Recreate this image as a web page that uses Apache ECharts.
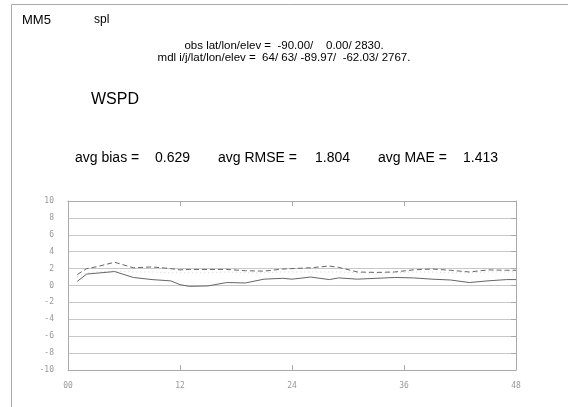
<!DOCTYPE html>
<html>
<head>
<meta charset="utf-8">
<title>MM5 spl WSPD</title>
<script src="https://cdn.jsdelivr.net/npm/echarts@6/dist/echarts.min.js"></script>
<style>
    html, body { margin: 0; padding: 0; background: #fff; }
    #chart { width: 568px; height: 407px; }
</style>
</head>
<body>
<div id="chart"></div>
<script>
// forecast hour of each point
var hours = [1, 2, 3, 5, 7, 9, 11, 12, 13, 15, 17, 19, 21, 23, 24, 26, 28, 29, 31, 33, 35, 37, 39, 41, 43, 45, 47, 48];
// solid line (bias)
var biasValues = [0.5, 1.35, 1.45, 1.65, 0.95, 0.7, 0.55, 0.1, -0.1, -0.05, 0.35, 0.3, 0.75, 0.85, 0.75, 1.0, 0.7, 0.9, 0.75, 0.85, 0.95, 0.9, 0.75, 0.65, 0.35, 0.55, 0.7, 0.7];
// dashed line (rmse)
var rmseValues = [1.3, 2.0, 2.2, 2.75, 2.1, 2.2, 2.0, 1.85, 1.9, 1.9, 1.9, 1.75, 1.7, 1.95, 2.0, 2.1, 2.3, 2.15, 1.6, 1.55, 1.6, 1.85, 1.95, 1.8, 1.6, 1.85, 1.8, 1.8];
// faint dotted line (mae)
var maeValues = [1.0, 1.5, 1.6, 1.7, 1.6, 1.6, 1.5, 1.5, 1.5, 1.5, 1.6, 1.5, 1.5, 1.6, 1.6, 1.6, 1.6, 1.6, 1.5, 1.5, 1.5, 1.6, 1.6, 1.5, 1.5, 1.6, 1.6, 1.6];
var yTicks = [-10, -8, -6, -4, -2, 0, 2, 4, 6, 8, 10];
var xTicks = [0, 12, 24, 36, 48];

function pairs(vals) {
    return hours.map(function (h, i) { return [h, vals[i]]; });
}

var chart = echarts.init(document.getElementById('chart'), null, { renderer: 'canvas' });
var font = '"Liberation Sans", Arial, sans-serif';
var tickFont = '"DejaVu Sans Mono", monospace';

function label(text, x, y, size) {
    return { type: 'text', left: x, top: y, style: { text: text, font: size + 'px ' + font, fill: '#000' } };
}

var option = {
    animation: false,
    backgroundColor: '#fff',
    textStyle: { fontFamily: font },
    graphic: [
        // frame of the page
        { type: 'line', shape: { x1: 11.5, y1: 4.5, x2: 568, y2: 4.5 }, style: { stroke: '#aaa', lineWidth: 1 } },
        { type: 'line', shape: { x1: 11.5, y1: 4.5, x2: 11.5, y2: 407 }, style: { stroke: '#aaa', lineWidth: 1 } },
        label('MM5', 22, 14, 13),
        label('spl', 94, 14, 12),
        { type: 'text', x: 284, y: 40, style: { text: 'obs lat/lon/elev =  -90.00/    0.00/ 2830.', font: '11.5px ' + font, fill: '#000', align: 'center' } },
        { type: 'text', x: 284, y: 52, style: { text: 'mdl i/j/lat/lon/elev =  64/ 63/ -89.97/  -62.03/ 2767.', font: '11.5px ' + font, fill: '#000', align: 'center' } },
        label('WSPD', 91, 92, 16),
        label('avg bias =', 75, 151, 14),
        label('0.629', 155, 151, 14),
        label('avg RMSE =', 218, 151, 14),
        label('1.804', 315, 151, 14),
        label('avg MAE =', 378, 151, 14),
        label('1.413', 463, 151, 14)
    ],
    grid: {
        left: 68,
        right: 52,
        top: 201,
        bottom: 37,
        show: false
    },
    xAxis: [
        {
            type: 'value',
            min: 0,
            max: 48,
            interval: 12,
            position: 'bottom',
            axisLine: { show: true, onZero: false, lineStyle: { color: '#aaa' } },
            axisTick: { show: true, inside: true, length: 5, lineStyle: { color: '#aaa' } },
            axisLabel: {
                margin: 12,
                color: '#999',
                fontSize: 8,
                fontFamily: tickFont,
                formatter: function (v) { return xTicks.indexOf(v) >= 0 ? (v < 10 ? '0' + v : '' + v) : ''; }
            },
            splitLine: { show: false }
        },
        {
            type: 'value',
            min: 0,
            max: 48,
            interval: 12,
            position: 'top',
            axisLine: { show: true, onZero: false, lineStyle: { color: '#aaa' } },
            axisTick: { show: true, inside: true, length: 5, lineStyle: { color: '#aaa' } },
            axisLabel: { show: false },
            splitLine: { show: false }
        }
    ],
    yAxis: [
        {
            type: 'value',
            min: -10,
            max: 10,
            interval: 2,
            position: 'left',
            axisLine: { show: true, onZero: false, lineStyle: { color: '#aaa' } },
            axisTick: { show: false },
            axisLabel: {
                margin: 14,
                color: '#999',
                fontSize: 8,
                fontFamily: tickFont,
                formatter: function (v) { return yTicks.indexOf(v) >= 0 ? '' + v : ''; }
            },
            splitLine: { show: true, lineStyle: { color: '#c8c8c8', width: 1 } }
        },
        {
            type: 'value',
            min: -10,
            max: 10,
            interval: 2,
            position: 'right',
            axisLine: { show: true, onZero: false, lineStyle: { color: '#aaa' } },
            axisTick: { show: true, inside: true, length: 5, lineStyle: { color: '#aaa' } },
            axisLabel: { show: false },
            splitLine: { show: false }
        }
    ],
    series: [
        {
            name: 'mae',
            type: 'line',
            showSymbol: false,
            data: pairs(maeValues),
            lineStyle: { color: '#d4d4d4', width: 1, type: [1, 3] },
            z: 1
        },
        {
            name: 'rmse',
            type: 'line',
            showSymbol: false,
            data: pairs(rmseValues),
            lineStyle: { color: '#666', width: 1, type: [5, 3] },
            z: 2
        },
        {
            name: 'bias',
            type: 'line',
            showSymbol: false,
            data: pairs(biasValues),
            lineStyle: { color: '#666', width: 1 },
            z: 3
        }
    ]
};

chart.setOption(option);
window.addEventListener("resize", function () {
    chart.resize();
});
</script>
</body>
</html>
